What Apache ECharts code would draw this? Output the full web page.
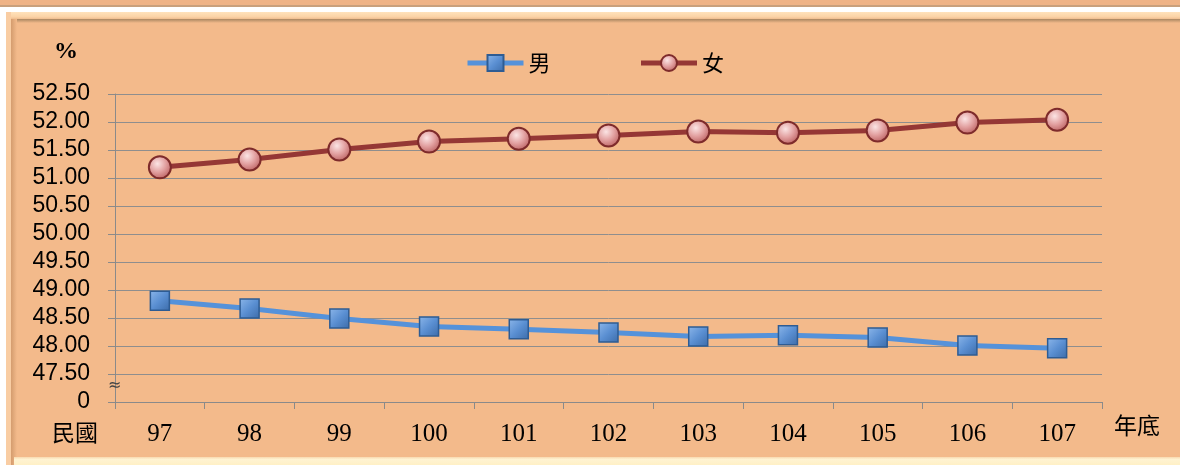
<!DOCTYPE html>
<html><head><meta charset="utf-8">
<script src="https://cdn.jsdelivr.net/npm/echarts@6/dist/echarts.min.js"></script>
<style>html,body{margin:0;padding:0;background:#fff}#c{width:1180px;height:465px}</style>
</head><body><div id="c"></div>
<script>
const categories = ['97','98','99','100','101','102','103','104','105','106','107'];
const male = [48.81, 48.67, 48.49, 48.35, 48.30, 48.24, 48.17, 48.19, 48.15, 48.01, 47.96];
const female = [51.19, 51.33, 51.51, 51.65, 51.70, 51.76, 51.83, 51.81, 51.85, 51.99, 52.04];
const seriesNames = ['男', '女'];
const yMin = 47.0, yMax = 52.5, yStep = 0.5;

const chart = echarts.init(document.getElementById('c'));
const bg = '#F3BA8B';
chart.setOption({
  backgroundColor: '#ffffff',
  animation: false,
  graphic: [
    {type:'rect', z:-20, shape:{x:0,y:0,width:1180,height:6}, style:{fill:'#EFB386'}},
    {type:'rect', z:-20, shape:{x:0,y:5,width:1180,height:2}, style:{fill:'#C9A07C'}},
    {type:'rect', z:-20, shape:{x:6,y:12,width:1174,height:453}, style:{fill:bg}},
    {type:'rect', z:-19, shape:{x:6,y:12,width:1174,height:8}, style:{fill:{type:'linear',x:0,y:0,x2:0,y2:1,colorStops:[{offset:0,color:'#FFE2BC'},{offset:0.6,color:'#FBD3A6'},{offset:1,color:'#E9B284'}]}}},
    {type:'rect', z:-19, shape:{x:12,y:19,width:1168,height:4}, style:{fill:{type:'linear',x:0,y:0,x2:0,y2:1,colorStops:[{offset:0,color:'#A98660'},{offset:1,color:bg}]}}},
    {type:'rect', z:-19, shape:{x:6,y:12,width:5,height:453}, style:{fill:'#F9CDA3'}},
    {type:'rect', z:-19, shape:{x:11,y:19,width:6,height:446}, style:{fill:{type:'linear',x:0,y:0,x2:1,y2:0,colorStops:[{offset:0,color:'#D49C6E'},{offset:1,color:bg}]}}},
    {type:'rect', z:-18, shape:{x:14,y:457,width:1166,height:8}, style:{fill:{type:'linear',x:0,y:0,x2:0,y2:1,colorStops:[{offset:0,color:'#F8D9B0'},{offset:0.3,color:'#FFF3D2'},{offset:1,color:'#FFF0C6'}]}}},
    {type:'text', z:10, left:54, top:40, style:{text:'%', font:'bold 24px "Liberation Serif"', fill:'#000'}},
    {type:'text', z:10, left:52, top:421, style:{text:'民國', font:'23px "Noto Sans CJK TC"', fill:'#000'}},
    {type:'text', z:10, left:1114, top:414, style:{text:'年底', font:'23px "Noto Sans CJK TC"', fill:'#000'}},
    {type:'text', z:10, left:108, top:378, style:{text:'≈', font:'16px "DejaVu Sans"', fill:'#444'}}
  ],
  legend: {
    top: 47, left: 460,
    itemWidth: 56, itemHeight: 20, itemGap: 88,
    lineStyle: {width: 5},
    textStyle: {fontSize: 22, fontFamily: '"Noto Sans CJK TC"', color: '#000'},
    data: seriesNames
  },
  grid: {left: 115, right: 78, top: 94, bottom: 63},
  xAxis: {
    type: 'category', data: categories, boundaryGap: true,
    axisLine: {lineStyle: {color: '#8A8A8A', width: 1}},
    axisTick: {show: true, length: 7, interval: 0, lineStyle: {color: '#8A8A8A'}},
    axisLabel: {fontSize: 25, fontFamily: '"Liberation Serif"', color: '#000', margin: 20}
  },
  yAxis: {
    type: 'value', min: yMin, max: yMax, interval: yStep,
    axisLine: {show: true, lineStyle: {color: '#8A8A8A'}},
    axisTick: {show: true, length: 7, lineStyle: {color: '#8A8A8A'}},
    splitLine: {lineStyle: {color: '#8E8E8E', width: 1}},
    axisLabel: {
      fontSize: 23, fontFamily: '"Liberation Sans"', color: '#000', margin: 25,
      formatter: v => Math.abs(v - yMin) < 1e-9 ? '0' : v.toFixed(2)
    }
  },
  series: [
    {
      name: seriesNames[0], type: 'line', data: male,
      symbol: 'rect', symbolSize: 19,
      lineStyle: {color: '#5592DA', width: 5},
      itemStyle: {
        color: {type:'linear',x:0,y:0,x2:1,y2:1,colorStops:[{offset:0,color:'#8DB7EA'},{offset:0.5,color:'#5A8FD2'},{offset:1,color:'#3C6BA8'}]},
        borderColor: '#2E5C93', borderWidth: 1.5
      }
    },
    {
      name: seriesNames[1], type: 'line', data: female,
      symbol: 'circle', symbolSize: 22,
      lineStyle: {color: '#953735', width: 5},
      itemStyle: {
        color: {type:'radial',x:0.4,y:0.35,r:0.7,colorStops:[{offset:0,color:'#FBE4E4'},{offset:0.5,color:'#E2A0A0'},{offset:1,color:'#B85C5C'}]},
        borderColor: '#7E2B2B', borderWidth: 2
      }
    }
  ]
});
</script></body></html>
